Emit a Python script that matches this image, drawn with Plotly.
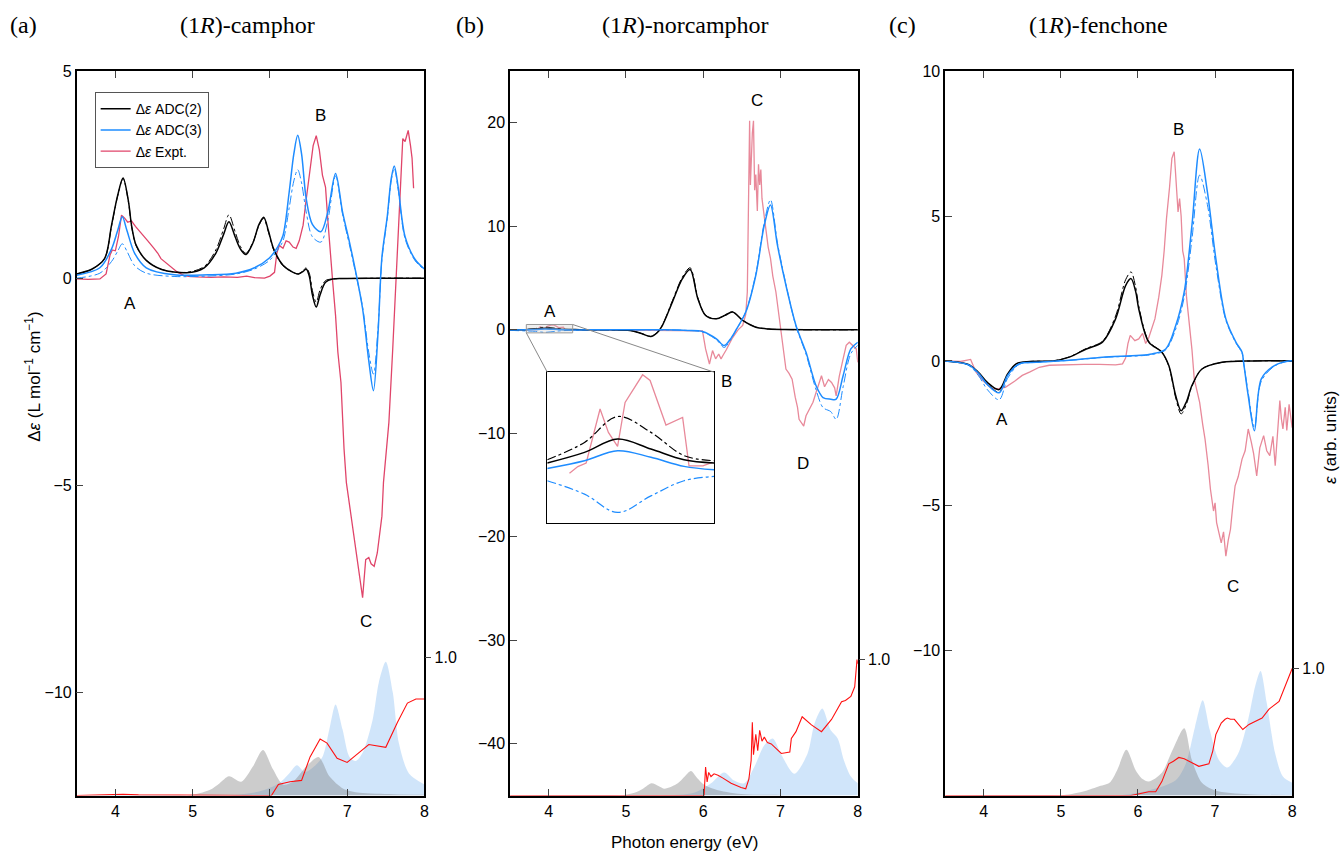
import plotly.graph_objects as go

# ---------------- panel (a) camphor ----------------
a_E_adc2 = [3.5, 3.7, 3.86, 3.95, 4.03, 4.10, 4.17, 4.21, 4.27, 4.40, 4.60, 4.92, 5.15, 5.30, 5.40, 5.47, 5.55, 5.62, 5.69, 5.78, 5.86, 5.92, 5.98, 6.05, 6.17, 6.30, 6.37, 6.43, 6.47, 6.51, 6.55, 6.60, 6.65, 6.72, 6.81, 7.0, 7.5, 8.0]
a_adc2 = [0.10, 0.22, 0.47, 1.27, 2.0, 2.42, 1.85, 1.27, 0.79, 0.43, 0.21, 0.13, 0.25, 0.60, 1.05, 1.36, 1.0, 0.70, 0.57, 0.85, 1.30, 1.47, 1.15, 0.70, 0.31, 0.14, 0.10, 0.16, 0.22, 0.05, -0.40, -0.70, -0.40, -0.10, -0.02, -0.01, 0.0, 0.0]
a_adc2_dd = [0.10, 0.22, 0.47, 1.25, 1.98, 2.40, 1.83, 1.25, 0.78, 0.43, 0.21, 0.14, 0.28, 0.68, 1.18, 1.53, 1.12, 0.76, 0.60, 0.86, 1.28, 1.44, 1.12, 0.68, 0.30, 0.14, 0.10, 0.18, 0.25, 0.12, -0.30, -0.58, -0.28, -0.06, -0.02, -0.01, 0.0, 0.0]

a_E_adc3 = [3.5, 3.8, 3.95, 4.03, 4.09, 4.15, 4.25, 4.40, 4.76, 5.2, 5.56, 5.8, 5.99, 6.10, 6.17, 6.25, 6.31, 6.36, 6.41, 6.47, 6.55, 6.66, 6.75, 6.85, 6.94, 7.03, 7.11, 7.20, 7.28, 7.34, 7.40, 7.45, 7.52, 7.57, 7.61, 7.66, 7.75, 7.88, 8.0]
a_adc3 = [0.07, 0.25, 0.70, 1.15, 1.48, 1.15, 0.60, 0.25, 0.08, 0.08, 0.12, 0.25, 0.48, 0.75, 1.03, 2.08, 3.0, 3.45, 3.0, 1.92, 1.30, 1.12, 1.60, 2.53, 1.60, 0.87, 0.16, -0.74, -2.0, -2.72, -1.31, 0.50, 1.50, 2.40, 2.71, 2.20, 1.00, 0.45, 0.22]
a_adc3_dd = [0.0, 0.12, 0.40, 0.65, 0.83, 0.65, 0.30, 0.12, 0.04, 0.05, 0.10, 0.22, 0.42, 0.68, 0.90, 1.70, 2.35, 2.62, 2.30, 1.60, 1.00, 0.87, 1.40, 2.47, 1.55, 0.80, 0.12, -0.70, -1.80, -2.32, -1.20, 0.45, 1.45, 2.35, 2.65, 2.15, 0.95, 0.42, 0.20]

a_E_exp = [3.5, 3.65, 3.8, 3.88, 3.93, 3.96, 4.0, 4.04, 4.08, 4.12, 4.16, 4.21, 4.26, 4.32, 4.37, 4.42, 4.50, 4.55, 4.59, 4.65, 4.72, 4.80, 4.89, 4.95, 5.05, 5.24, 5.40, 5.58, 5.70, 5.80, 5.93, 6.00, 6.06, 6.09, 6.12, 6.17, 6.21, 6.25, 6.30, 6.34, 6.38, 6.43, 6.47, 6.51, 6.56, 6.60, 6.64, 6.68, 6.72, 6.75, 6.78, 6.81, 6.85, 6.88, 6.92, 6.96, 6.99, 7.05, 7.11, 7.17, 7.20, 7.24, 7.28, 7.31, 7.35, 7.39, 7.45, 7.47, 7.54, 7.59, 7.63, 7.66, 7.69, 7.72, 7.75, 7.79, 7.82, 7.84, 7.86]
a_exp = [-0.02, -0.03, -0.02, 0.10, 0.55, 0.68, 0.66, 1.00, 1.52, 1.45, 1.35, 1.38, 1.25, 1.12, 1.03, 0.90, 0.72, 0.60, 0.47, 0.38, 0.27, 0.15, 0.06, 0.04, 0.03, 0.02, 0.03, 0.02, 0.05, 0.01, 0.0, 0.05, 0.14, 0.60, 0.79, 0.72, 0.90, 0.87, 0.75, 0.72, 0.90, 1.28, 1.90, 2.49, 3.20, 3.44, 3.10, 2.49, 2.20, 1.40, 0.60, -0.02, -0.90, -1.79, -2.52, -4.13, -4.94, -5.75, -6.56, -7.37, -7.72, -6.80, -6.75, -6.90, -6.96, -6.64, -5.75, -4.94, -3.49, -1.71, -0.10, 1.20, 2.40, 3.37, 3.30, 3.57, 3.20, 2.90, 2.17]

a_E_abs2 = [3.5, 4.92, 5.22, 5.35, 5.47, 5.63, 5.78, 5.91, 6.04, 6.17, 6.30, 6.47, 6.63, 6.77, 6.95, 7.16, 7.59, 8.0]
a_abs2 = [0.0, 0.0, 0.04, 0.09, 0.14, 0.10, 0.21, 0.33, 0.19, 0.08, 0.10, 0.21, 0.28, 0.14, 0.05, 0.02, 0.01, 0.005]
a_E_abs3 = [3.5, 5.44, 5.86, 6.12, 6.25, 6.35, 6.45, 6.55, 6.68, 6.77, 6.85, 6.94, 7.03, 7.11, 7.20, 7.33, 7.41, 7.50, 7.59, 7.67, 7.80, 8.0]
a_abs3 = [0.0, 0.0, 0.03, 0.09, 0.16, 0.22, 0.17, 0.20, 0.28, 0.48, 0.66, 0.48, 0.28, 0.25, 0.31, 0.55, 0.82, 0.97, 0.75, 0.38, 0.16, 0.08]
a_E_absx = [3.5, 4.0, 4.1, 4.3, 6.02, 6.11, 6.26, 6.41, 6.52, 6.65, 6.74, 6.87, 7.0, 7.13, 7.28, 7.50, 7.65, 7.78, 7.89, 8.0]
a_absx = [0.0, 0.005, 0.01, 0.005, 0.0, 0.08, 0.10, 0.11, 0.28, 0.41, 0.38, 0.27, 0.24, 0.30, 0.37, 0.35, 0.53, 0.67, 0.70, 0.70]

# ---------------- panel (b) norcamphor ----------------
b_E_adc = [3.5, 3.7, 3.83, 3.95, 4.07, 4.2, 4.4, 4.8, 5.05, 5.2, 5.32, 5.4, 5.47, 5.60, 5.73, 5.83, 5.93, 6.03, 6.17, 6.28, 6.38, 6.51, 6.68, 6.85, 7.07, 7.5, 8.0]
b_adc2 = [0.0, 0.02, 0.08, 0.15, 0.09, 0.04, 0.02, 0.0, -0.05, -0.35, -0.65, -0.30, 0.42, 2.68, 4.95, 5.83, 3.01, 1.39, 1.07, 1.40, 1.72, 0.91, 0.26, 0.08, 0.03, 0.0, 0.0]
b_adc2_dd = [0.02, 0.04, 0.13, 0.26, 0.18, 0.06, 0.03, 0.0, -0.05, -0.35, -0.62, -0.28, 0.45, 2.80, 5.10, 6.00, 3.10, 1.42, 1.08, 1.42, 1.75, 0.93, 0.27, 0.08, 0.03, 0.0, 0.0]
b_E_adc3 = [3.5, 3.83, 3.95, 4.07, 4.2, 4.5, 5.5, 5.8, 5.99, 6.17, 6.27, 6.35, 6.42, 6.55, 6.68, 6.79, 6.87, 6.96, 7.07, 7.20, 7.33, 7.46, 7.55, 7.65, 7.72, 7.81, 7.91, 8.0]
b_adc3 = [-0.01, 0.03, 0.08, 0.05, 0.0, 0.0, 0.0, -0.05, -0.16, -0.87, -1.52, -0.90, -0.06, 1.72, 5.28, 10.13, 12.07, 8.19, 4.31, 0.42, -2.17, -5.40, -6.54, -6.70, -6.70, -4.43, -1.84, -1.20]
b_adc3_dd = [-0.05, -0.15, -0.24, -0.15, -0.07, -0.02, 0.0, -0.06, -0.20, -0.95, -1.70, -1.00, -0.10, 1.75, 5.40, 10.40, 12.56, 8.40, 4.40, 0.35, -2.35, -5.80, -7.51, -7.90, -8.64, -5.50, -2.30, -1.50]

b_E_exp = [3.5, 3.78, 3.85, 3.89, 3.92, 3.95, 3.98, 4.04, 4.07, 4.13, 4.19, 4.21, 4.3, 4.6, 5.0, 5.5, 5.9, 5.99, 6.03, 6.08, 6.12, 6.16, 6.20, 6.23, 6.26, 6.30, 6.37, 6.45, 6.51, 6.55, 6.57, 6.585, 6.60, 6.61, 6.62, 6.635, 6.65, 6.665, 6.68, 6.70, 6.715, 6.73, 6.745, 6.76, 6.78, 6.81, 6.84, 6.87, 6.90, 6.94, 7.00, 7.04, 7.07, 7.11, 7.15, 7.19, 7.22, 7.24, 7.27, 7.30, 7.33, 7.37, 7.42, 7.46, 7.50, 7.53, 7.57, 7.62, 7.66, 7.70, 7.72, 7.76, 7.81, 7.85, 7.89, 7.93, 7.98, 8.0]
b_exp = [0.0, -0.03, 0.02, 0.30, 0.18, 0.10, 0.34, 0.49, 0.46, 0.22, 0.26, 0.0, 0.02, 0.0, 0.0, 0.0, -0.05, -0.10, -1.84, -3.30, -2.00, -2.80, -2.33, -2.80, -2.40, -1.90, -0.87, 0.0, 0.42, 1.50, 3.66, 12.0, 20.2, 14.0, 16.6, 19.0, 20.2, 13.5, 15.0, 11.5, 16.0, 14.0, 15.5, 12.7, 11.5, 9.5, 8.0, 6.9, 5.2, 3.66, 0.42, -2.0, -3.79, -4.2, -4.76, -6.5, -7.5, -8.64, -9.0, -9.29, -8.3, -7.67, -7.0, -6.05, -5.0, -4.43, -5.5, -4.8, -5.08, -5.6, -6.37, -4.5, -2.81, -1.5, -1.19, -1.5, -1.84, -3.14]

b_E_abs2 = [3.5, 4.92, 5.11, 5.22, 5.33, 5.42, 5.50, 5.67, 5.76, 5.84, 5.92, 6.01, 6.19, 6.53, 7.0, 8.0]
b_abs2 = [0.0, 0.0, 0.02, 0.05, 0.09, 0.07, 0.05, 0.09, 0.14, 0.18, 0.13, 0.08, 0.04, 0.01, 0.005, 0.0]
b_E_abs3 = [3.5, 5.45, 5.88, 6.10, 6.27, 6.40, 6.53, 6.66, 6.79, 6.90, 7.01, 7.18, 7.35, 7.44, 7.54, 7.65, 7.74, 7.82, 7.91, 8.0]
b_abs3 = [0.0, 0.0, 0.02, 0.09, 0.17, 0.11, 0.09, 0.21, 0.37, 0.42, 0.30, 0.16, 0.31, 0.53, 0.64, 0.48, 0.42, 0.26, 0.14, 0.09]
b_E_absx = [3.5, 6.01, 6.03, 6.05, 6.07, 6.10, 6.14, 6.19, 6.25, 6.36, 6.49, 6.55, 6.59, 6.62, 6.635, 6.65, 6.68, 6.705, 6.73, 6.76, 6.79, 6.83, 6.88, 6.95, 7.01, 7.12, 7.14, 7.20, 7.28, 7.40, 7.53, 7.66, 7.79, 7.84, 7.91, 7.96, 7.99, 8.0]
b_absx = [0.0, 0.0, 0.21, 0.10, 0.17, 0.14, 0.16, 0.15, 0.13, 0.09, 0.06, 0.05, 0.12, 0.26, 0.54, 0.30, 0.45, 0.33, 0.48, 0.40, 0.43, 0.39, 0.38, 0.34, 0.31, 0.32, 0.42, 0.47, 0.58, 0.52, 0.47, 0.56, 0.69, 0.70, 0.73, 0.80, 1.0, 0.97]

# inset (b): region A enlarged
i_E = [3.70, 3.834, 3.953, 4.073, 4.192, 4.30]
i_adc2 = [0.019, 0.075, 0.146, 0.093, 0.036, 0.019]
i_adc2_dd = [0.036, 0.128, 0.265, 0.181, 0.058, 0.031]
i_adc3 = [-0.010, 0.031, 0.084, 0.049, 0.001, -0.017]
i_adc3_dd = [-0.075, -0.146, -0.243, -0.155, -0.075, -0.052]
i_E_exp = [3.78, 3.81, 3.84, 3.89, 3.92, 3.953, 3.98, 4.043, 4.07, 4.127, 4.187, 4.21, 4.26, 4.294]
i_exp = [-0.035, 0.0, 0.019, 0.305, 0.181, 0.107, 0.34, 0.486, 0.456, 0.22, 0.26, 0.004, 0.004, 0.022]

# ---------------- panel (c) fenchone ----------------
c_E_adc2 = [3.5, 3.8, 3.93, 4.05, 4.2, 4.31, 4.42, 4.6, 4.9, 5.11, 5.33, 5.54, 5.71, 5.84, 5.91, 5.97, 6.01, 6.14, 6.31, 6.40, 6.49, 6.56, 6.63, 6.70, 6.83, 7.09, 7.5, 8.0]
c_adc2 = [0.0, -0.12, -0.39, -0.75, -0.99, -0.45, -0.10, -0.02, 0.0, 0.13, 0.41, 0.65, 1.45, 2.60, 2.84, 2.40, 1.80, 0.65, 0.30, -0.16, -1.20, -1.72, -1.40, -0.85, -0.28, -0.05, 0.0, 0.0]
c_adc2_dd = [0.0, -0.13, -0.42, -0.80, -1.08, -0.50, -0.12, -0.02, 0.0, 0.14, 0.43, 0.68, 1.55, 2.80, 3.07, 2.55, 1.90, 0.68, 0.30, -0.18, -1.28, -1.83, -1.48, -0.88, -0.28, -0.05, 0.0, 0.0]
c_E_adc3 = [3.5, 3.8, 3.93, 4.05, 4.2, 4.31, 4.46, 4.68, 5.11, 5.54, 6.18, 6.36, 6.49, 6.60, 6.70, 6.80, 6.90, 7.01, 7.14, 7.27, 7.35, 7.37, 7.43, 7.51, 7.60, 7.77, 7.96, 8.0]
c_adc3 = [0.0, -0.13, -0.42, -0.82, -1.10, -0.50, -0.10, -0.05, 0.02, 0.13, 0.24, 0.41, 1.22, 2.38, 4.68, 7.31, 5.84, 3.53, 1.45, 0.65, 0.30, -0.05, -1.20, -2.41, -0.62, -0.16, 0.0, 0.0]
c_adc3_dd = [0.0, -0.15, -0.50, -1.00, -1.34, -0.60, -0.12, -0.05, 0.02, 0.12, 0.22, 0.38, 1.10, 2.20, 4.20, 6.41, 5.40, 3.30, 1.40, 0.62, 0.28, -0.05, -1.10, -2.30, -0.70, -0.18, 0.0, 0.0]

c_E_exp = [3.5, 3.70, 3.83, 3.90, 4.00, 4.11, 4.20, 4.28, 4.40, 4.50, 4.60, 4.72, 4.85, 5.06, 5.30, 5.50, 5.71, 5.80, 5.84, 5.87, 5.90, 5.96, 6.01, 6.06, 6.10, 6.14, 6.18, 6.22, 6.27, 6.31, 6.34, 6.37, 6.41, 6.44, 6.47, 6.49, 6.52, 6.54, 6.56, 6.58, 6.60, 6.63, 6.66, 6.70, 6.73, 6.76, 6.80, 6.84, 6.87, 6.91, 6.94, 6.98, 7.00, 7.02, 7.05, 7.08, 7.11, 7.14, 7.17, 7.20, 7.23, 7.26, 7.30, 7.35, 7.39, 7.43, 7.47, 7.50, 7.54, 7.58, 7.63, 7.67, 7.71, 7.75, 7.78, 7.81, 7.84, 7.86, 7.88, 7.91, 7.93, 7.96, 8.0]
c_exp = [0.0, -0.02, 0.05, -0.39, -0.70, -0.97, -0.95, -0.91, -0.70, -0.50, -0.38, -0.22, -0.15, -0.13, -0.12, -0.12, -0.14, -0.10, 0.10, 0.60, 0.88, 0.70, 0.76, 0.95, 0.60, 0.80, 1.10, 1.45, 2.20, 2.95, 3.80, 4.91, 6.00, 6.99, 7.22, 6.20, 5.14, 5.60, 5.00, 3.80, 3.53, 2.20, 1.45, 0.40, -0.62, -1.00, -1.43, -2.20, -2.70, -3.60, -4.43, -5.18, -4.90, -5.58, -6.00, -6.28, -5.90, -6.74, -6.20, -5.81, -5.00, -4.31, -4.00, -3.39, -3.10, -2.35, -2.80, -3.20, -3.97, -3.00, -2.58, -3.10, -3.27, -2.60, -3.62, -2.50, -1.37, -2.00, -2.35, -1.60, -2.40, -1.50, -2.30]

c_E_abs2 = [3.5, 4.98, 5.28, 5.48, 5.63, 5.73, 5.85, 5.97, 6.06, 6.14, 6.31, 6.45, 6.60, 6.70, 6.83, 7.0, 7.43, 8.0]
c_abs2 = [0.0, 0.0, 0.03, 0.07, 0.10, 0.20, 0.36, 0.20, 0.13, 0.11, 0.18, 0.36, 0.53, 0.28, 0.10, 0.04, 0.01, 0.005]
c_E_abs3 = [3.5, 5.71, 6.14, 6.49, 6.62, 6.74, 6.84, 6.93, 7.05, 7.16, 7.30, 7.43, 7.52, 7.59, 7.67, 7.78, 7.88, 8.0]
c_abs3 = [0.0, 0.0, 0.04, 0.12, 0.25, 0.54, 0.75, 0.52, 0.28, 0.22, 0.33, 0.60, 0.86, 0.98, 0.73, 0.33, 0.15, 0.10]
c_E_absx = [3.5, 5.91, 6.14, 6.23, 6.31, 6.35, 6.40, 6.46, 6.53, 6.60, 6.66, 6.79, 6.92, 6.97, 7.01, 7.08, 7.13, 7.16, 7.20, 7.25, 7.36, 7.44, 7.61, 7.70, 7.83, 7.91, 8.0]
c_absx = [0.0, 0.0, 0.03, 0.03, 0.11, 0.18, 0.25, 0.27, 0.30, 0.29, 0.27, 0.23, 0.25, 0.35, 0.48, 0.57, 0.60, 0.61, 0.60, 0.60, 0.52, 0.56, 0.61, 0.68, 0.74, 0.86, 1.0]

# ---------------- figure ----------------
BLACK = "#000000"
BLUE = "#1E8CFF"
RED_A = "#E0456A"
RED_BC = "#E8899A"
ABS_RED = "#FF1010"
GRAY_FILL = "rgba(120,120,120,0.38)"
BLUE_FILL = "rgba(100,170,240,0.30)"
FONT = "Liberation Sans"

fig = go.Figure()

panels = [
    dict(x="x", y="y", ysec="y4", red=RED_A,
         E2=a_E_adc2, d2=a_adc2, d2dd=a_adc2_dd, E3=a_E_adc3, d3=a_adc3, d3dd=a_adc3_dd,
         Ex=a_E_exp, dx=a_exp, Ea2=a_E_abs2, a2=a_abs2, Ea3=a_E_abs3, a3=a_abs3, Eax=a_E_absx, ax=a_absx),
    dict(x="x2", y="y2", ysec="y5", red=RED_BC,
         E2=b_E_adc, d2=b_adc2, d2dd=b_adc2_dd, E3=b_E_adc3, d3=b_adc3, d3dd=b_adc3_dd,
         Ex=b_E_exp, dx=b_exp, Ea2=b_E_abs2, a2=b_abs2, Ea3=b_E_abs3, a3=b_abs3, Eax=b_E_absx, ax=b_absx),
    dict(x="x3", y="y3", ysec="y6", red=RED_BC,
         E2=c_E_adc2, d2=c_adc2, d2dd=c_adc2_dd, E3=c_E_adc3, d3=c_adc3, d3dd=c_adc3_dd,
         Ex=c_E_exp, dx=c_exp, Ea2=c_E_abs2, a2=c_abs2, Ea3=c_E_abs3, a3=c_abs3, Eax=c_E_absx, ax=c_absx),
]

for i, p in enumerate(panels):
    first = (i == 0)
    fig.add_trace(go.Scatter(x=p["Ea3"], y=p["a3"], xaxis=p["x"], yaxis=p["ysec"], mode="lines",
                             line=dict(width=0, shape="spline", smoothing=0.8), fill="tozeroy",
                             fillcolor=BLUE_FILL, showlegend=False, hoverinfo="skip"))
    fig.add_trace(go.Scatter(x=p["Ea2"], y=p["a2"], xaxis=p["x"], yaxis=p["ysec"], mode="lines",
                             line=dict(width=0, shape="spline", smoothing=0.8), fill="tozeroy",
                             fillcolor=GRAY_FILL, showlegend=False, hoverinfo="skip"))
    fig.add_trace(go.Scatter(x=p["Eax"], y=p["ax"], xaxis=p["x"], yaxis=p["ysec"], mode="lines",
                             line=dict(width=1.1, color=ABS_RED), showlegend=False, hoverinfo="skip"))
    fig.add_trace(go.Scatter(x=p["Ex"], y=p["dx"], xaxis=p["x"], yaxis=p["y"], mode="lines",
                             line=dict(width=1.3, color=p["red"]), name="Δ<i>ε</i> Expt.",
                             showlegend=False))
    fig.add_trace(go.Scatter(x=p["E2"], y=p["d2dd"], xaxis=p["x"], yaxis=p["y"], mode="lines",
                             line=dict(width=1.0, color=BLACK, dash="dashdot", shape="spline", smoothing=0.9),
                             showlegend=False))
    fig.add_trace(go.Scatter(x=p["E3"], y=p["d3dd"], xaxis=p["x"], yaxis=p["y"], mode="lines",
                             line=dict(width=1.0, color=BLUE, dash="dashdot", shape="spline", smoothing=0.9),
                             showlegend=False))
    fig.add_trace(go.Scatter(x=p["E2"], y=p["d2"], xaxis=p["x"], yaxis=p["y"], mode="lines",
                             line=dict(width=1.5, color=BLACK, shape="spline", smoothing=0.9),
                             name="Δ<i>ε</i> ADC(2)", showlegend=first, legendrank=1))
    fig.add_trace(go.Scatter(x=p["E3"], y=p["d3"], xaxis=p["x"], yaxis=p["y"], mode="lines",
                             line=dict(width=1.5, color=BLUE, shape="spline", smoothing=0.9),
                             name="Δ<i>ε</i> ADC(3)", showlegend=first, legendrank=2))
    if first:
        fig.add_trace(go.Scatter(x=[None], y=[None], xaxis="x", yaxis="y", mode="lines",
                                 line=dict(width=1.3, color=RED_A), name="Δ<i>ε</i> Expt.",
                                 showlegend=True, legendrank=3))

fig.add_trace(go.Scatter(x=i_E_exp, y=i_exp, xaxis="x4", yaxis="y7", mode="lines",
                         line=dict(width=1.3, color=RED_BC), showlegend=False))
fig.add_trace(go.Scatter(x=i_E, y=i_adc2_dd, xaxis="x4", yaxis="y7", mode="lines",
                         line=dict(width=1.2, color=BLACK, dash="dashdot", shape="spline"), showlegend=False))
fig.add_trace(go.Scatter(x=i_E, y=i_adc3_dd, xaxis="x4", yaxis="y7", mode="lines",
                         line=dict(width=1.2, color=BLUE, dash="dashdot", shape="spline"), showlegend=False))
fig.add_trace(go.Scatter(x=i_E, y=i_adc2, xaxis="x4", yaxis="y7", mode="lines",
                         line=dict(width=1.5, color=BLACK, shape="spline"), showlegend=False))
fig.add_trace(go.Scatter(x=i_E, y=i_adc3, xaxis="x4", yaxis="y7", mode="lines",
                         line=dict(width=1.5, color=BLUE, shape="spline"), showlegend=False))

W, H = 1344, 854
EFF_H = 844  # effective drawing height observed in the rendered page
def px(v):
    return v / W
def py(v):
    return (H - v) / EFF_H

ydom = [py(795.7), py(73)]
xdoms = [[px(77), px(426)], [px(512), px(861)], [px(948.7), px(1297)]]
yranges = [[-12.5, 5], [-45, 25], [-15, 10]]
yticks = [[5, 0, -5, -10], [20, 10, 0, -10, -20, -30, -40], [10, 5, 0, -5, -10]]
secranges = [[0, 5.25], [0, 5.33], [0, 5.70]]

tickfont = dict(family=FONT, size=16, color="black")
layout = dict(
    width=W, height=H, margin=dict(l=0, r=0, t=0, b=0, pad=0), autosize=False,
    paper_bgcolor="white", plot_bgcolor="rgba(0,0,0,0)",
    font=dict(family=FONT, size=16, color="black"),
    showlegend=True,
    legend=dict(x=px(95), y=py(94), xanchor="left", yanchor="top", bgcolor="white",
                bordercolor="#555555", borderwidth=1, font=dict(family=FONT, size=14),
                itemwidth=30, tracegroupgap=0, traceorder="normal"),
)
for k in range(3):
    xs = "" if k == 0 else str(k + 1)
    ys = "" if k == 0 else str(k + 1)
    layout["xaxis" + xs] = dict(domain=xdoms[k], range=[3.5, 8], anchor="y" + ys,
                                tickvals=[4, 5, 6, 7, 8], ticks="inside", ticklen=7, tickwidth=1.3,
                                showline=True, linecolor="black", linewidth=1.5, mirror="ticks",
                                showgrid=False, zeroline=False, tickfont=tickfont)
    layout["yaxis" + ys] = dict(domain=ydom, range=yranges[k], anchor="x" + xs,
                                tickvals=yticks[k], ticks="inside", ticklen=7, tickwidth=1.3,
                                showline=True, linecolor="black", linewidth=1.5, mirror=True,
                                showgrid=False, zeroline=False, tickfont=tickfont)
    layout["yaxis" + str(k + 4)] = dict(overlaying="y" + ys, anchor="x" + xs, side="right",
                                        range=secranges[k], tickvals=[1.0], ticktext=["1.0"],
                                        ticks="outside", ticklen=6, tickwidth=1.3,
                                        showline=False, showgrid=False, zeroline=False, tickfont=tickfont)

ins_x = [px(549.3), px(716.7)]
ins_y = [py(524), py(373.3)]
ins_xr = [3.7, 4.3]
ins_yr = [-0.3, 0.5]
layout["xaxis4"] = dict(domain=ins_x, range=ins_xr, anchor="y7", showline=True, mirror=True,
                        linecolor="black", linewidth=1.3, showticklabels=False, ticks="",
                        showgrid=False, zeroline=False)
layout["yaxis7"] = dict(domain=ins_y, range=ins_yr, anchor="x4", showline=True, mirror=True,
                        linecolor="black", linewidth=1.3, showticklabels=False, ticks="",
                        showgrid=False, zeroline=False)

fig.update_layout(**layout)

rect_x = [3.71, 4.31]
rect_y = [-0.29, 0.52]
fig.add_shape(type="rect", xref="x2", yref="y2", x0=rect_x[0], x1=rect_x[1], y0=rect_y[0], y1=rect_y[1],
              line=dict(color="#999999", width=1), fillcolor="rgba(190,190,190,0.25)", layer="above")

def data_to_paper(v, dom, rng):
    return dom[0] + (v - rng[0]) / (rng[1] - rng[0]) * (dom[1] - dom[0])

bx0 = data_to_paper(rect_x[0], xdoms[1], [3.5, 8])
bx1 = data_to_paper(rect_x[1], xdoms[1], [3.5, 8])
by0 = data_to_paper(rect_y[0], ydom, yranges[1])
by1 = data_to_paper(rect_y[1], ydom, yranges[1])
fig.add_shape(type="line", xref="paper", yref="paper", x0=bx0, y0=by0, x1=ins_x[0], y1=ins_y[1],
              line=dict(color="#888888", width=1))
fig.add_shape(type="line", xref="paper", yref="paper", x0=bx1, y0=by1, x1=ins_x[1], y1=ins_y[1],
              line=dict(color="#888888", width=1))

SERIF = "Liberation Serif"
titles = [("(a)", 24, "(1<i>R</i>)-camphor", 248), ("(b)", 472, "(1<i>R</i>)-norcamphor", 688),
          ("(c)", 906, "(1<i>R</i>)-fenchone", 1103)]
for lab, lx, name, nx in titles:
    fig.add_annotation(text=lab, x=px(lx), y=py(27), xref="paper", yref="paper", showarrow=False,
                       font=dict(family=SERIF, size=24), xanchor="center", yanchor="middle")
    fig.add_annotation(text=name, x=px(nx), y=py(27), xref="paper", yref="paper", showarrow=False,
                       font=dict(family=SERIF, size=24), xanchor="center", yanchor="middle")

letters = [("A", 130, 305), ("B", 322, 117), ("C", 367, 622),
           ("A", 552, 313), ("B", 729, 383), ("C", 760, 102), ("D", 806, 464),
           ("A", 1006, 421), ("B", 1183, 131), ("C", 1238, 587)]
for t, lx, ly in letters:
    fig.add_annotation(text=t, x=px(lx), y=py(ly), xref="paper", yref="paper", showarrow=False,
                       font=dict(family=FONT, size=17), xanchor="center", yanchor="middle")

fig.add_annotation(text="Photon energy (eV)", x=px(687), y=py(843), xref="paper", yref="paper",
                   showarrow=False, font=dict(family=FONT, size=17), xanchor="center", yanchor="middle")
fig.add_annotation(text="Δ<i>ε</i> (L mol<sup>−1</sup> cm<sup>−1</sup>)", x=px(33), y=py(378),
                   xref="paper", yref="paper", showarrow=False, textangle=-90,
                   font=dict(family=FONT, size=17), xanchor="center", yanchor="middle")
fig.add_annotation(text="<i>ε</i> (arb. units)", x=px(1335), y=py(439),
                   xref="paper", yref="paper", showarrow=False, textangle=-90,
                   font=dict(family=FONT, size=17), xanchor="center", yanchor="middle")

fig.write_html("out.html")
